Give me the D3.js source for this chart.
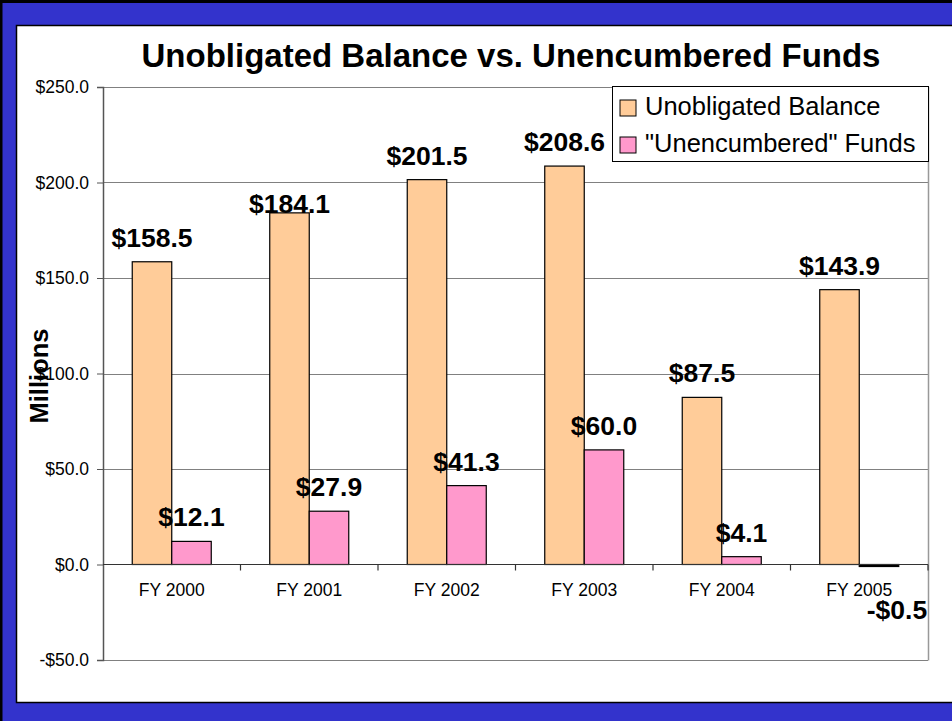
<!DOCTYPE html>
<html>
<head>
<meta charset="utf-8">
<script src="https://cdn.jsdelivr.net/npm/d3@7"></script>
<style>
  body { margin: 0; background: #fff; }
  text { font-family: Arial, "Liberation Sans", sans-serif; }
</style>
</head>
<body>
<div id="chart"></div>
<script>
// data
var years = ["FY 2000", "FY 2001", "FY 2002", "FY 2003", "FY 2004", "FY 2005"];
var unobligated = [158.5, 184.1, 201.5, 208.6, 87.5, 143.9];
var unencumbered = [12.1, 27.9, 41.3, 60.0, 4.1, -0.5];
var seriesNames = ["Unobligated Balance", "\"Unencumbered\" Funds"];
var seriesColors = ["#FFCC99", "#FF99CC"];
var yTicks = [-50, 0, 50, 100, 150, 200, 250];

var W = 952, H = 721;
var plot = {left: 103, right: 928, top: 87, bottom: 660};

var svg = d3.select("#chart").append("svg")
  .attr("width", W).attr("height", H);

// blue frame
svg.append("rect").attr("width", W).attr("height", H).attr("fill", "#3333CC");
svg.append("rect").attr("x", 1).attr("y", 1.5).attr("width", W + 5).attr("height", H + 5)
  .attr("fill", "none").attr("stroke", "#000").attr("stroke-width", 3);
svg.append("rect").attr("x", 16.5).attr("y", 25.5).attr("width", W).attr("height", 677)
  .attr("fill", "#fff").attr("stroke", "#000").attr("stroke-width", 1.5);

var y = d3.scaleLinear().domain([-50, 250]).range([plot.bottom, plot.top]);
var x0 = d3.scaleBand().domain(years).range([plot.left, plot.right]);
var bw = x0.bandwidth();
var x1 = d3.scaleBand().domain([0, 1]).range([bw * 0.2127, bw * 0.7873]);

// gridlines
svg.append("g").selectAll("line").data(yTicks.filter(function (d) { return d !== 0; }))
  .enter().append("line")
    .attr("x1", plot.left).attr("x2", plot.right)
    .attr("y1", function (d) { return Math.round(y(d)) + 0.5; })
    .attr("y2", function (d) { return Math.round(y(d)) + 0.5; })
    .attr("stroke", "#808080").attr("stroke-width", 1);
// right frame line
svg.append("line").attr("x1", plot.right + 0.5).attr("x2", plot.right + 0.5)
  .attr("y1", plot.top).attr("y2", plot.bottom + 0.5)
  .attr("stroke", "#999").attr("stroke-width", 1.5);

// y axis
var yAxis = svg.append("g")
  .attr("transform", "translate(" + plot.left + ",0)")
  .call(d3.axisLeft(y).tickValues(yTicks).tickSize(6).tickPadding(8)
    .tickFormat(function (d) { return (d < 0 ? "-$" : "$") + Math.abs(d).toFixed(1); }));
yAxis.select(".domain").attr("stroke", "#555").attr("stroke-width", 1.5);
yAxis.selectAll(".tick line").attr("stroke", "#555");
yAxis.selectAll("text").attr("font-size", "17.5px").attr("fill", "#000")
  .style("font-family", "Arial, 'Liberation Sans', sans-serif");

svg.append("text")
  .attr("transform", "translate(48,376) rotate(-90)")
  .attr("text-anchor", "middle")
  .attr("font-size", "25.5px").attr("font-weight", "bold")
  .text("Millions");

// bars
var rows = years.map(function (yr, i) {
  return {year: yr, values: [unobligated[i], unencumbered[i]]};
});

var groups = svg.append("g").selectAll("g").data(rows).enter().append("g")
  .attr("transform", function (d) { return "translate(" + x0(d.year) + ",0)"; });

groups.selectAll("rect").data(function (d) {
    return d.values.map(function (v, k) { return {year: d.year, k: k, v: v}; });
  })
  .enter().append("rect")
    .attr("x", function (d) { return x1(d.k); })
    .attr("width", x1.bandwidth())
    .attr("y", function (d) { return y(Math.max(0, d.v)); })
    .attr("height", function (d) { return Math.max(Math.abs(y(d.v) - y(0)), 2); })
    .attr("fill", function (d) { return d.v < 0 ? "#000" : seriesColors[d.k]; })
    .attr("stroke", "#000").attr("stroke-width", 1.2);

// zero line and category ticks
svg.append("line").attr("x1", plot.left).attr("x2", plot.right)
  .attr("y1", y(0)).attr("y2", y(0)).attr("stroke", "#333").attr("stroke-width", 1.2);
svg.append("g").selectAll("line").data(years.slice(1).concat(["end"]))
  .enter().append("line")
    .attr("x1", function (d) { return d === "end" ? plot.right : x0(d); })
    .attr("x2", function (d) { return d === "end" ? plot.right : x0(d); })
    .attr("y1", y(0)).attr("y2", y(0) + 6)
    .attr("stroke", "#333").attr("stroke-width", 1.2);

svg.append("g").selectAll("text").data(years).enter().append("text")
  .attr("x", function (d) { return x0(d) + bw / 2; })
  .attr("y", y(0) + 31)
  .attr("text-anchor", "middle").attr("font-size", "17.5px")
  .text(function (d) { return d; });

// value labels
groups.selectAll("text.val").data(function (d) {
    return d.values.map(function (v, k) { return {year: d.year, k: k, v: v}; });
  })
  .enter().append("text").attr("class", "val")
    .attr("x", function (d) {
      var cx = x1(d.k) + x1.bandwidth() / 2;
      return d.v < 0 ? cx + 18 : cx;
    })
    .attr("y", function (d) {
      if (d.v < 0) return y(0) + 54;
      if (d.year === "FY 2001" && d.k === 0) return y(d.v);
      return y(d.v) - 15;
    })
    .attr("text-anchor", "middle")
    .attr("font-size", "26.5px").attr("font-weight", "bold")
    .text(function (d) { return (d.v < 0 ? "-$" : "$") + Math.abs(d.v).toFixed(1); });

// title
svg.append("text")
  .attr("x", 511).attr("y", 67)
  .attr("text-anchor", "middle")
  .attr("font-size", "33px").attr("font-weight", "bold")
  .text("Unobligated Balance vs. Unencumbered Funds");

// legend
var lg = svg.append("g").attr("transform", "translate(612,86)");
lg.append("rect").attr("x", 0.5).attr("y", 0.5).attr("width", 316).attr("height", 75)
  .attr("fill", "#fff").attr("stroke", "#000").attr("stroke-width", 1);
var items = lg.selectAll("g").data(seriesNames).enter().append("g")
  .attr("transform", function (d, i) { return "translate(0," + (i * 37) + ")"; });
items.append("rect").attr("x", 8).attr("y", 14).attr("width", 16).attr("height", 16)
  .attr("fill", function (d, i) { return seriesColors[i]; })
  .attr("stroke", "#000").attr("stroke-width", 1);
items.append("text").attr("x", 33).attr("y", 29)
  .attr("font-size", "25.5px")
  .text(function (d) { return d; });
</script>
</body>
</html>
